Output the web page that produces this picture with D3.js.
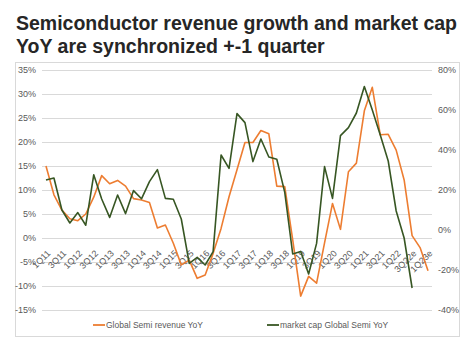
<!DOCTYPE html>
<html>
<head>
<meta charset="utf-8">
<script src="https://cdn.jsdelivr.net/npm/d3@7"></script>
<style>
    body { margin: 0; background: #fff; }
    svg { display: block; font-family: "Liberation Sans", Arial, sans-serif; }
</style>
</head>
<body>
<svg id="chart" width="474" height="351"></svg>
<script>
// quarters 1Q11 .. 1Q23e
const quarters = [
    "1Q11", "2Q11", "3Q11", "4Q11", "1Q12", "2Q12", "3Q12", "4Q12",
    "1Q13", "2Q13", "3Q13", "4Q13", "1Q14", "2Q14", "3Q14", "4Q14",
    "1Q15", "2Q15", "3Q15", "4Q15", "1Q16", "2Q16", "3Q16", "4Q16",
    "1Q17", "2Q17", "3Q17", "4Q17", "1Q18", "2Q18", "3Q18", "4Q18",
    "1Q19", "2Q19", "3Q19", "4Q19", "1Q20", "2Q20", "3Q20", "4Q20",
    "1Q21", "2Q21", "3Q21", "4Q21", "1Q22", "2Q22", "3Q22e", "4Q22e",
    "1Q23e",
];

// left axis (%)
const revenueYoY = [
    15, 9, 5.8, 4, 3.6, 5, 8.5, 13,
    11.3, 12, 10.8, 8.2, 7.9, 7.4, 2.1, 2.7,
    -1.1, -5.6, -4.6, -8.4, -7.7, -3.2, 2, 8.6,
    14.2, 19.9, 19.9, 22.4, 21.7, 10.8, 10.7, -0.4,
    -12.1, -8, -9.4, -1, 7.2, 1.8, 13.8, 15.6,
    26.5, 31.4, 21.5, 21.6, 18.3, 12.1, 0.5, -2,
    -6.8,
];

// right axis (%), ends at 3Q22e
const marketCapYoY = [
    25, 26, 10, 3.5, 8.7, 2.4, 27.6, 15.5,
    6.3, 17.5, 8.2, 19.7, 15.6, 24.2, 30.2, 15.8,
    15.4, 5.5, -16.7, -13.7, -17.5, -10.8, 37.5, 30.8,
    58.2, 53.7, 34.2, 45.5, 36.5, 35.4, 18.8, -12,
    -10.8, -22, -6.7, 31.7, 15.8, 47.2, 51.2, 58.5,
    71.7, 60, 47.5, 34.5, 9.5, -4, -29,
];

const leftTicks = [-15, -10, -5, 0, 5, 10, 15, 20, 25, 30, 35];
const rightTicks = [-40, -20, 0, 20, 40, 60, 80];

const seriesNames = ["Global Semi revenue YoY", "market cap Global Semi YoY"];
const seriesColors = ["#ED7D31", "#375623"];

function drawChart() {
    const svg = d3.select("#chart");
    const plot = { left: 42, right: 432, top: 70, bottom: 310 };

    // chart frame
    svg.append("rect")
        .attr("x", 15.5)
        .attr("y", 62.5)
        .attr("width", 444)
        .attr("height", 274)
        .attr("fill", "#fff")
        .attr("stroke", "#D9D9D9");

    // title
    const title = svg.append("text")
        .attr("x", 16)
        .attr("y", 30)
        .attr("font-size", 19.5)
        .attr("font-weight", "bold")
        .attr("fill", "#262626");
    title.append("tspan").attr("x", 16).attr("y", 30).text("Semiconductor revenue growth and market cap");
    title.append("tspan").attr("x", 16).attr("y", 53).text("YoY are synchronized +-1 quarter");

    const x = d3.scalePoint()
        .domain(quarters)
        .range([plot.left, plot.right])
        .padding(0.5);

    const yLeft = d3.scaleLinear().domain([-15, 35]).range([plot.bottom, plot.top]);
    const yRight = d3.scaleLinear().domain([-40, 80]).range([plot.bottom, plot.top]);

    // gridlines
    svg.append("g")
        .selectAll("line")
        .data(leftTicks)
        .enter()
        .append("line")
        .attr("x1", plot.left)
        .attr("x2", plot.right)
        .attr("y1", (d) => Math.round(yLeft(d)) + 0.5)
        .attr("y2", (d) => Math.round(yLeft(d)) + 0.5)
        .attr("stroke", "#D9D9D9")
        .attr("stroke-width", 1);

    // left axis labels
    const leftAxis = d3.axisLeft(yLeft)
        .tickValues(leftTicks)
        .tickFormat((d) => d + "%")
        .tickSize(0)
        .tickPadding(6);
    const gl = svg.append("g")
        .attr("transform", `translate(${plot.left}, 0)`)
        .call(leftAxis);
    gl.select(".domain").remove();
    gl.selectAll("text")
        .attr("fill", "#595959")
        .attr("font-size", 9)
        .attr("font-family", "Liberation Sans, Arial, sans-serif");

    // right axis labels
    const rightAxis = d3.axisRight(yRight)
        .tickValues(rightTicks)
        .tickFormat((d) => d + "%")
        .tickSize(0)
        .tickPadding(6);
    const gr = svg.append("g")
        .attr("transform", `translate(${plot.right}, 0)`)
        .call(rightAxis);
    gr.select(".domain").remove();
    gr.selectAll("text")
        .attr("fill", "#595959")
        .attr("font-size", 9)
        .attr("font-family", "Liberation Sans, Arial, sans-serif");

    // category labels, every other quarter, rotated
    const shown = quarters.filter((q, i) => i % 2 === 0);
    svg.append("g")
        .selectAll("text")
        .data(shown)
        .enter()
        .append("text")
        .attr("transform", (d) => `translate(${x(d) + 5}, 254) rotate(-45)`)
        .attr("text-anchor", "end")
        .attr("font-size", 9)
        .attr("fill", "#595959")
        .text((d) => d);

    // lines
    const revLine = d3.line()
        .x((d, i) => x(quarters[i]))
        .y((d) => yLeft(d));
    const capLine = d3.line()
        .x((d, i) => x(quarters[i]))
        .y((d) => yRight(d));

    svg.append("path")
        .datum(revenueYoY)
        .attr("d", revLine)
        .attr("fill", "none")
        .attr("stroke", seriesColors[0])
        .attr("stroke-width", 1.6)
        .attr("stroke-linejoin", "round");

    svg.append("path")
        .datum(marketCapYoY)
        .attr("d", capLine)
        .attr("fill", "none")
        .attr("stroke", seriesColors[1])
        .attr("stroke-width", 1.6)
        .attr("stroke-linejoin", "round");

    // legend
    const legendX = [93, 267];
    const legend = svg.append("g")
        .selectAll("g")
        .data(seriesNames)
        .enter()
        .append("g")
        .attr("transform", (d, i) => `translate(${legendX[i]}, 325)`);
    legend.append("line")
        .attr("x1", 0)
        .attr("x2", 12)
        .attr("stroke", (d, i) => seriesColors[i])
        .attr("stroke-width", 1.8);
    legend.append("text")
        .attr("x", 13)
        .attr("y", 3)
        .attr("font-size", 8.5)
        .attr("fill", "#595959")
        .text((d) => d);
}

drawChart();
</script>
</body>
</html>
